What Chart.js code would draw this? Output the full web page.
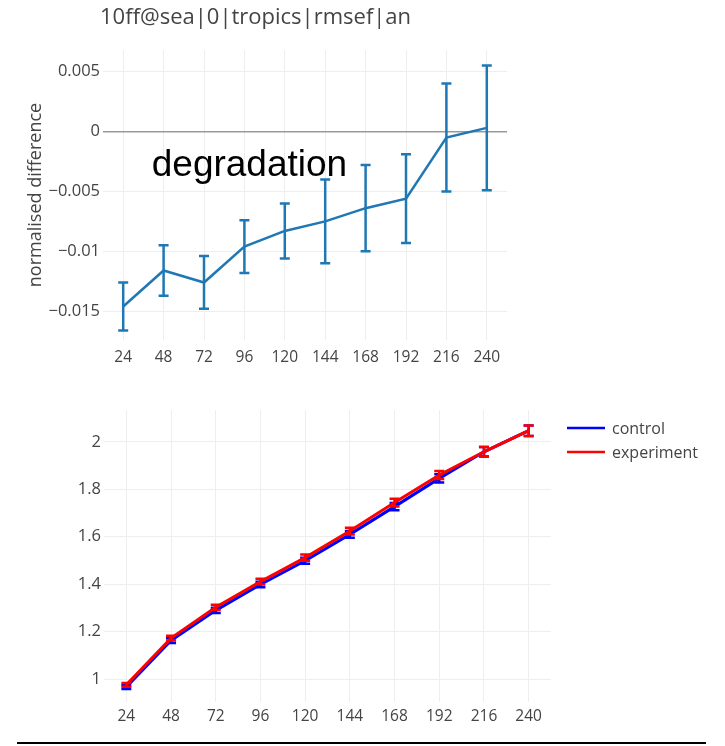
<!DOCTYPE html>
<html>
<head>
<meta charset="utf-8">
<script src="https://cdn.jsdelivr.net/npm/chart.js@4"></script>
<style>
  body { margin: 0; background: #fff; }
  #wrap { position: relative; width: 725px; height: 746px; }
  canvas { position: absolute; left: 0; }
  #topChart { top: 0; }
  #bottomChart { top: 380px; }
  #rule { position: absolute; left: 17px; top: 742px; width: 689px; height: 2px; background: #000; }
</style>
</head>
<body>
<div id="wrap">
  <canvas id="topChart" width="725" height="380"></canvas>
  <canvas id="bottomChart" width="725" height="360"></canvas>
  <div id="rule"></div>
</div>
<script>
// forecast lead times (hours)
var leadTimes = [24, 48, 72, 96, 120, 144, 168, 192, 216, 240];

// normalised rmse difference, experiment vs control
var normDiff    = [-0.0146, -0.0116, -0.0126, -0.0096, -0.0083, -0.0075, -0.0064, -0.0056, -0.0005, 0.0003];
var normDiffErr = [0.0020, 0.0021, 0.0022, 0.0022, 0.0023, 0.0035, 0.0036, 0.0037, 0.0045, 0.0052];

// raw rmse for each run
var control       = [0.967, 1.163, 1.290, 1.399, 1.499, 1.610, 1.727, 1.846, 1.958, 2.047];
var controlErr    = [0.008, 0.010, 0.011, 0.012, 0.013, 0.014, 0.015, 0.017, 0.020, 0.022];
var experiment    = [0.976, 1.173, 1.303, 1.411, 1.512, 1.624, 1.744, 1.860, 1.958, 2.047];
var experimentErr = [0.008, 0.010, 0.011, 0.012, 0.013, 0.014, 0.016, 0.017, 0.020, 0.022];

var topYTicks    = [-0.015, -0.01, -0.005, 0, 0.005];
var bottomYTicks = [1, 1.2, 1.4, 1.6, 1.8, 2];

var titleText = '10ff@sea|0|tropics|rmsef|an';

Chart.defaults.font.family = '"Open Sans", sans-serif';
Chart.defaults.color = '#444';

function toPoints(values) {
  return leadTimes.map(function (t, i) { return { x: t, y: values[i] }; });
}

function minusSign(v) {
  if (v === 0) return '0';
  return (v < 0 ? '\u2212' : '') + Math.abs(v);
}

// vertical error bars with caps, drawn right after each line
var errorBars = {
  id: 'errorBars',
  afterDatasetDraw: function (chart, args) {
    var ds = chart.data.datasets[args.index];
    if (!ds.errors) return;
    var ctx = chart.ctx, y = chart.scales.y;
    ctx.save();
    ctx.strokeStyle = ds.borderColor;
    ctx.lineWidth = ds.errorWidth || 2;
    args.meta.data.forEach(function (pt, i) {
      var v = ds.data[i].y, e = ds.errors[i];
      var top = y.getPixelForValue(v + e), bot = y.getPixelForValue(v - e);
      ctx.beginPath();
      ctx.moveTo(pt.x, top); ctx.lineTo(pt.x, bot);
      ctx.moveTo(pt.x - 5, top); ctx.lineTo(pt.x + 5, top);
      ctx.moveTo(pt.x - 5, bot); ctx.lineTo(pt.x + 5, bot);
      ctx.stroke();
    });
    ctx.restore();
  }
};

function xAxis(height, pad) {
  return {
    type: 'linear',
    min: 12,
    max: 252,
    afterBuildTicks: function (axis) { axis.ticks = leadTimes.map(function (v) { return { value: v }; }); },
    afterFit: function (axis) { axis.height = height; },
    grid: { color: '#eee', drawTicks: false },
    border: { display: false },
    ticks: { font: { size: 15.5 }, padding: pad, autoSkip: false, maxRotation: 0, color: '#444' }
  };
}

// ---- top: normalised difference ----
var topDecor = {
  id: 'topDecor',
  afterDraw: function (chart) {
    var ctx = chart.ctx;
    ctx.save();
    ctx.fillStyle = '#444';
    ctx.font = '22px "Open Sans", sans-serif';
    ctx.textBaseline = 'middle';
    ctx.textAlign = 'left';
    ctx.fillText(titleText, 100, 18);

    ctx.fillStyle = '#000';
    ctx.font = '37px "Liberation Sans", Arial, sans-serif';
    ctx.textAlign = 'center';
    ctx.fillText('degradation', chart.scales.x.getPixelForValue(99), chart.scales.y.getPixelForValue(-0.0029));
    ctx.restore();
  }
};

new Chart(document.getElementById('topChart'), {
  type: 'line',
  data: {
    datasets: [{
      label: 'normalised difference',
      data: toPoints(normDiff),
      errors: normDiffErr,
      errorWidth: 2.5,
      borderColor: '#1f77b4',
      borderWidth: 2.5,
      pointRadius: 0,
      tension: 0
    }]
  },
  options: {
    responsive: false,
    animation: false,
    layout: { padding: { top: 50, right: 218, bottom: 0, left: 0 } },
    plugins: { legend: { display: false }, tooltip: { enabled: false } },
    scales: {
      x: xAxis(40, 8),
      y: {
        min: -0.0174,
        max: 0.0068,
        afterBuildTicks: function (axis) { axis.ticks = topYTicks.map(function (v) { return { value: v }; }); },
        afterFit: function (axis) { axis.width = 103; },
        grid: {
          drawTicks: false,
          color: function (c) { return c.tick && c.tick.value === 0 ? '#999' : '#eee'; },
          lineWidth: function (c) { return c.tick && c.tick.value === 0 ? 1.5 : 1; }
        },
        border: { display: false },
        ticks: { font: { size: 16.5 }, padding: 3, color: '#444', callback: minusSign },
        title: {
          display: true,
          text: 'normalised difference',
          font: { size: 18 },
          color: '#444',
          padding: { top: 25, bottom: 0 }
        }
      }
    }
  },
  plugins: [errorBars, topDecor]
});

// ---- bottom: control vs experiment ----
var sideLegend = {
  id: 'sideLegend',
  afterDraw: function (chart) {
    var ctx = chart.ctx;
    ctx.save();
    ctx.font = '16px "Open Sans", sans-serif';
    ctx.textBaseline = 'middle';
    ctx.textAlign = 'left';
    chart.data.datasets.forEach(function (ds, i) {
      var y = 48 + i * 24;
      ctx.strokeStyle = ds.borderColor;
      ctx.lineWidth = 2.5;
      ctx.beginPath();
      ctx.moveTo(567, y);
      ctx.lineTo(605, y);
      ctx.stroke();
      ctx.fillStyle = '#444';
      ctx.fillText(ds.label, 612, y + 1);
    });
    ctx.restore();
  }
};

new Chart(document.getElementById('bottomChart'), {
  type: 'line',
  data: {
    datasets: [{
      label: 'control',
      data: toPoints(control),
      errors: controlErr,
      errorWidth: 2.5,
      borderColor: '#0000ff',
      borderWidth: 3,
      pointRadius: 0,
      tension: 0,
      order: 2
    }, {
      label: 'experiment',
      data: toPoints(experiment),
      errors: experimentErr,
      errorWidth: 2.5,
      borderColor: '#ff0000',
      borderWidth: 3,
      pointRadius: 0,
      tension: 0,
      order: 1
    }]
  },
  options: {
    responsive: false,
    animation: false,
    layout: { padding: { top: 30, right: 174, bottom: 2, left: 0 } },
    plugins: { legend: { display: false }, tooltip: { enabled: false } },
    scales: {
      x: xAxis(36, 5),
      y: {
        min: 0.904,
        max: 2.134,
        afterBuildTicks: function (axis) { axis.ticks = bottomYTicks.map(function (v) { return { value: v }; }); },
        afterFit: function (axis) { axis.width = 104; },
        grid: { color: '#eee', drawTicks: false },
        border: { display: false },
        ticks: { font: { size: 16.5 }, padding: 3, color: '#444', callback: function (v) { return String(v); } }
      }
    }
  },
  plugins: [errorBars, sideLegend]
});
</script>
</body>
</html>
